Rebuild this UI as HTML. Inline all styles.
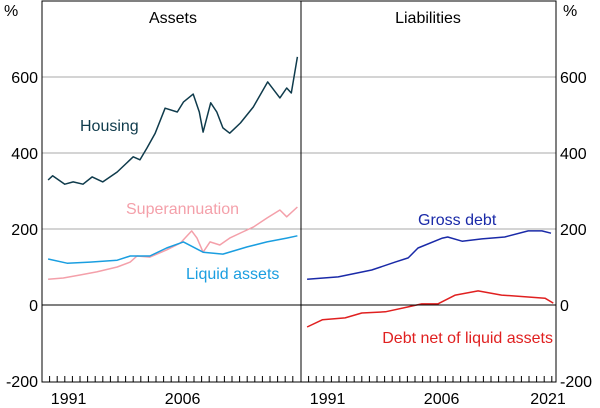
<!DOCTYPE html>
<html><head><meta charset="utf-8"><style>
body{margin:0;background:#fff;}
svg{display:block;font-family:"Liberation Sans",Arial,sans-serif;}
</style></head><body>
<svg id="chart" width="600" height="408">
<g id="grid"></g>
<g id="series"></g>
<g id="axes"></g>
<text x="173" y="23" text-anchor="middle" font-size="16">Assets</text>
<text x="428" y="23" text-anchor="middle" font-size="16">Liabilities</text>
<text x="80" y="131" font-size="16" fill="#0f3b4c">Housing</text>
<text x="126" y="214" font-size="16" fill="#f4a0aa">Superannuation</text>
<text x="186" y="279" font-size="16" fill="#1a9ee0">Liquid assets</text>
<text x="418" y="225" font-size="16" fill="#1a2aa8">Gross debt</text>
<text x="553" y="343" text-anchor="end" font-size="16" fill="#e02020">Debt net of liquid assets</text>
</svg>
<script>
const yTicks=[600,400,200,0,-200];
const xLabels=[1991,2006];
const xLabelsRight=[1991,2006,2021];
const housingYears=[1988.8,1989.4,1991.0,1992.1,1993.4,1994.6,1996.0,1997.9,2000.0,2000.9,2001.8,2002.9,2004.2,2005.8,2006.6,2007.9,2008.7,2009.2,2010.2,2011.0,2011.8,2012.7,2014.1,2015.8,2017.7,2019.3,2020.2,2020.8,2021.6];
const housingValues=[329,340,318,324,318,337,324,350,390,382,413,452,518,508,534,555,508,455,532,508,466,452,479,521,587,545,571,558,653];
const superYears=[1988.8,1990.8,1993.0,1995.2,1997.9,1999.6,2000.5,2002.2,2004.4,2006.2,2007.7,2008.4,2009.2,2010.1,2011.4,2012.7,2014.4,2015.8,2017.6,2019.3,2020.2,2021.6];
const superValues=[68,71,79,87,100,113,129,126,145,163,195,176,139,166,158,176,192,205,229,250,232,258];
const liquidYears=[1988.8,1991.3,1994.3,1997.9,1999.6,2002.2,2004.4,2006.6,2009.2,2011.8,2015.0,2017.6,2020.2,2021.6];
const liquidValues=[121,110,113,118,129,129,150,166,139,134,153,166,176,182];
const grossYears=[1988.8,1992.9,1997.3,2000.4,2002.1,2003.4,2006.6,2007.3,2009.2,2011.8,2014.8,2017.9,2019.7,2020.9];
const grossValues=[68,74,92,113,124,150,176,179,168,174,179,195,195,189];
const netYears=[1988.8,1990.8,1993.8,1996.0,1999.1,2002.1,2003.9,2006.0,2008.3,2011.3,2014.4,2017.9,2020.1,2021.2];
const netValues=[-58,-39,-34,-21,-18,-5,3,3,26,37,26,21,18,5];

const NS="http://www.w3.org/2000/svg";
const L0=42,MID=301,R1=556,TOP=1,BOT=382;
const x0=1988,ppy=7.6;
function yPos(v){return 305-v*0.38;}
function xLeft(y){return L0+(y-x0)*ppy;}
function xRight(y){return MID+(y-x0)*ppy;}
function mk(tag,attrs,parent){const e=document.createElementNS(NS,tag);for(const k in attrs)e.setAttribute(k,attrs[k]);parent.appendChild(e);return e;}
const grid=document.getElementById('grid'),axes=document.getElementById('axes'),ser=document.getElementById('series');
yTicks.forEach(t=>{
  const y=yPos(t);
  if(t!==0&&t!==-200){const g=mk('line',{x1:L0,x2:R1,y1:y,y2:y,stroke:'#aaa','stroke-width':1},grid);
  
  }
  const a=mk('text',{x:38,y:y+6,'text-anchor':'end','font-size':16},axes);a.textContent=t;
  
  
  const b=mk('text',{x:560,y:y+6,'font-size':16},axes);b.textContent=t;
  
  
});
const pl=mk('text',{x:4,y:16,'font-size':16},axes);pl.textContent='%';


const pr=mk('text',{x:563,y:16,'font-size':16},axes);pr.textContent='%';


const zl=mk('line',{x1:L0,x2:R1,y1:yPos(0),y2:yPos(0),stroke:'#000','stroke-width':1},axes);


const fr=mk('rect',{x:L0,y:TOP,width:R1-L0,height:BOT-TOP,fill:'none',stroke:'#000','stroke-width':1},axes);


const dv=mk('line',{x1:MID,x2:MID,y1:TOP,y2:BOT,stroke:'#000','stroke-width':1},axes);


for(let yr=1989;yr<2022;yr++){
  [xLeft,xRight].forEach(f=>{const x=f(yr);const t=mk('line',{x1:x,x2:x,y1:BOT,y2:BOT-6,stroke:'#000','stroke-width':1},axes);
  
  });
}
xLabels.forEach(yr=>{const t=mk('text',{x:xLeft(yr+0.5),y:404,'text-anchor':'middle','font-size':16},axes);t.textContent=yr;
  
  });
xLabelsRight.forEach(yr=>{let x=xRight(yr+0.5);if(x>540)x=548;const t=mk('text',{x:x,y:404,'text-anchor':'middle','font-size':16},axes);t.textContent=yr;
  
  });
function line(years,vals,fx,color,name){
  const d=years.map((y,i)=>(i?'L':'M')+fx(y).toFixed(1)+','+yPos(vals[i]).toFixed(1)).join(' ');
  const p=mk('path',{d:d,fill:'none',stroke:color,'stroke-width':1.5,'stroke-linejoin':'round'},ser);
  
  
}
line(superYears,superValues,xLeft,'#f4a0aa','superannuation-line');
line(liquidYears,liquidValues,xLeft,'#1a9ee0','liquid-assets-line');
line(housingYears,housingValues,xLeft,'#0f3b4c','housing-line');
line(grossYears,grossValues,xRight,'#1a2aa8','gross-debt-line');
line(netYears,netValues,xRight,'#e02020','debt-net-line');
</script>
</body></html>
